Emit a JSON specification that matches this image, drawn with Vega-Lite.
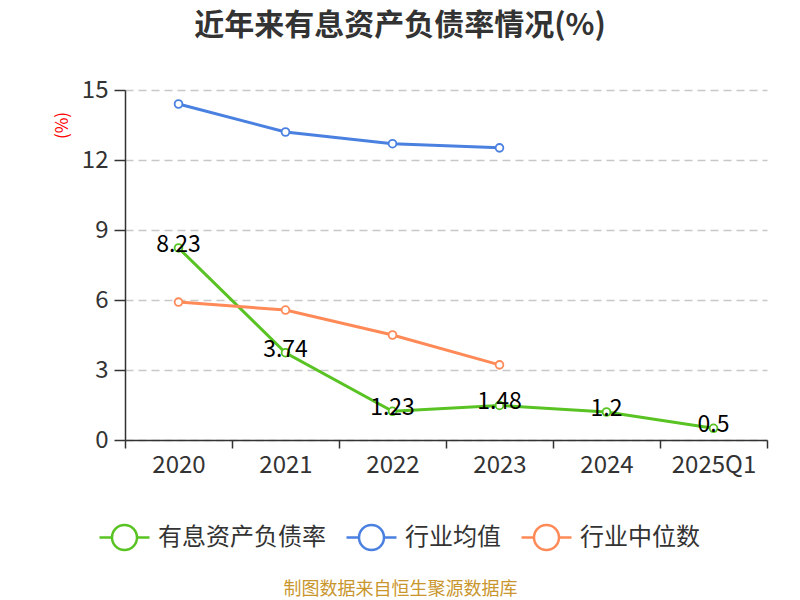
{
  "$schema": "https://vega.github.io/schema/vega-lite/v6.json",
  "autosize": {"type": "none"},
  "width": 642,
  "height": 350,
  "padding": {"left": 125, "top": 90, "right": 33, "bottom": 160},
  "background": "white",
  "config": {
    "font": "Noto Sans CJK SC",
    "view": {"stroke": null}
  },
  "title": {
    "text": "近年来有息资产负债率情况(%)",
    "fontSize": 30,
    "fontWeight": "bold",
    "color": "#333333",
    "anchor": "middle",
    "frame": "group",
    "dx": -46,
    "offset": 37
  },
  "data": {
    "values": [
      {"year": "2020", "series": "有息资产负债率", "value": 8.23},
      {"year": "2021", "series": "有息资产负债率", "value": 3.74},
      {"year": "2022", "series": "有息资产负债率", "value": 1.23},
      {"year": "2023", "series": "有息资产负债率", "value": 1.48},
      {"year": "2024", "series": "有息资产负债率", "value": 1.2},
      {"year": "2025Q1", "series": "有息资产负债率", "value": 0.5},
      {"year": "2020", "series": "行业均值", "value": 14.4},
      {"year": "2021", "series": "行业均值", "value": 13.2},
      {"year": "2022", "series": "行业均值", "value": 12.7},
      {"year": "2023", "series": "行业均值", "value": 12.52},
      {"year": "2020", "series": "行业中位数", "value": 5.91},
      {"year": "2021", "series": "行业中位数", "value": 5.57},
      {"year": "2022", "series": "行业中位数", "value": 4.5},
      {"year": "2023", "series": "行业中位数", "value": 3.22}
    ]
  },
  "encoding": {
    "x": {
      "field": "year",
      "type": "nominal",
      "sort": ["2020", "2021", "2022", "2023", "2024", "2025Q1"],
      "bandPosition": 0.5,
      "scale": {"type": "band", "paddingInner": 0, "paddingOuter": 0},
      "axis": {
        "title": "制图数据来自恒生聚源数据库",
        "titleFontSize": 18,
        "titleFontWeight": "normal",
        "titleColor": "#c9962e",
        "titleX": 275,
        "titleY": 149,
        "titleBaseline": "middle",
        "labelAngle": 0,
        "labelFontSize": 24,
        "labelColor": "#333333",
        "labelPadding": 5,
        "tickBand": "extent",
        "tickSize": 8,
        "tickColor": "#333333",
        "tickWidth": 1.5,
        "domainColor": "#333333",
        "domainWidth": 1.5,
        "grid": false
      }
    },
    "y": {
      "field": "value",
      "type": "quantitative",
      "scale": {"domain": [0, 15]},
      "axis": {
        "values": [0, 3, 6, 9, 12, 15],
        "title": "(%)",
        "titleColor": "#ff0000",
        "titleFontSize": 17,
        "titleFontWeight": "normal",
        "titleX": -63,
        "titleY": 35,
        "titleAngle": -90,
        "titleAlign": "center",
        "titleBaseline": "middle",
        "labelFontSize": 24,
        "labelColor": "#333333",
        "labelPadding": 6,
        "tickSize": 11,
        "tickColor": "#333333",
        "tickWidth": 1.5,
        "domainColor": "#333333",
        "domainWidth": 1.5,
        "grid": true,
        "gridColor": "#c8c8c8",
        "gridDash": [8, 5],
        "gridWidth": 1.5
      }
    },
    "color": {
      "field": "series",
      "type": "nominal",
      "sort": ["有息资产负债率", "行业均值", "行业中位数"],
      "scale": {
        "domain": ["有息资产负债率", "行业均值", "行业中位数"],
        "range": ["#58c322", "#4a80e0", "#ff8a57"]
      },
      "legend": {
        "title": null,
        "orient": "none",
        "direction": "horizontal",
        "legendX": -27,
        "legendY": 421,
        "symbolType": "M-1,0H-0.5M0.5,0H1M-0.5,0A0.5,0.5 0 1,1 0.5,0A0.5,0.5 0 1,1 -0.5,0",
        "symbolSize": 2500,
        "symbolStrokeWidth": 2.5,
        "symbolFillColor": "white",
        "labelFontSize": 24,
        "labelColor": "#333333",
        "labelOffset": 7,
        "labelLimit": 400,
        "columnPadding": 15
      }
    }
  },
  "layer": [
    {
      "mark": {"type": "line", "strokeWidth": 3}
    },
    {
      "mark": {"type": "point", "shape": "circle", "filled": false, "fill": "white", "size": 60, "strokeWidth": 1.8, "opacity": 1}
    },
    {
      "transform": [{"filter": "datum.series === '有息资产负债率'"}],
      "mark": {"type": "text", "fontSize": 23, "color": "#000000", "dy": -3, "baseline": "middle"},
      "encoding": {
        "text": {"field": "value", "type": "quantitative"},
        "color": {"value": "#000000"}
      }
    }
  ]
}
